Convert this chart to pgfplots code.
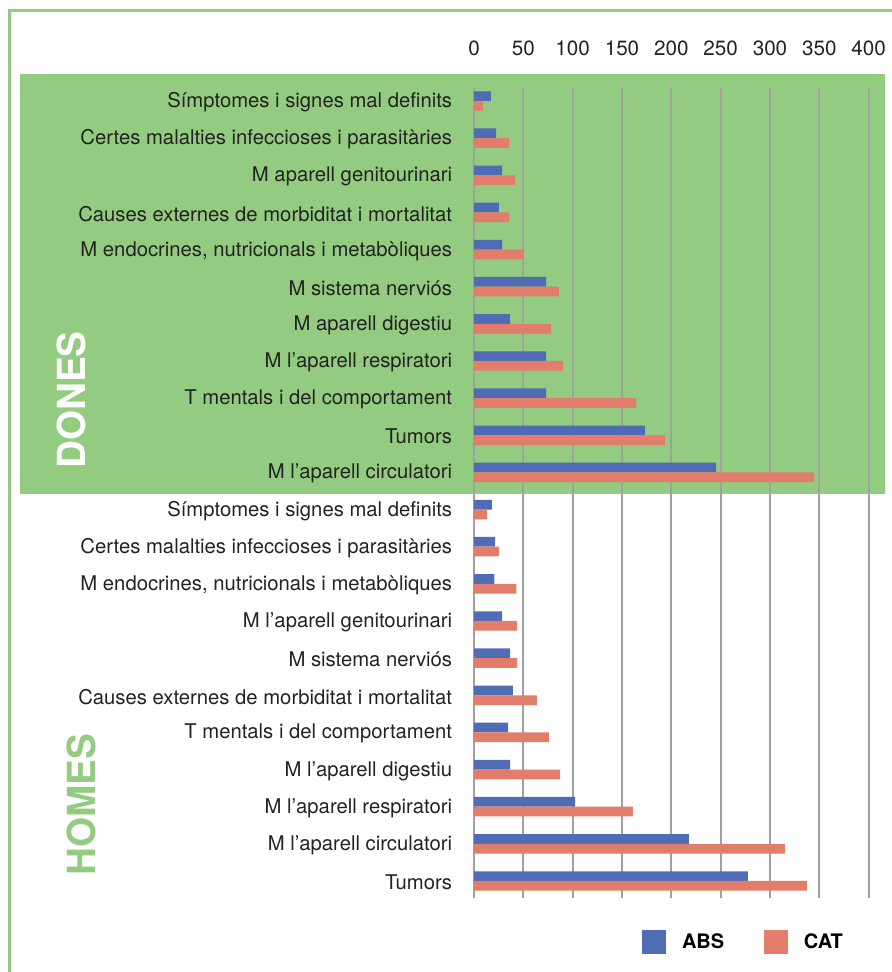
\documentclass[border=0pt]{standalone}
\usepackage{pgfplots}
\pgfplotsset{compat=1.18}
\usepackage{fontspec}
\setmainfont{TeX Gyre Heros}
\definecolor{absblue}{HTML}{4F6CB5}
\definecolor{catred}{HTML}{E27C6B}
\definecolor{bggreen}{HTML}{93CC80}
\definecolor{gridgray}{HTML}{A0A0A0}
\definecolor{txt}{HTML}{222222}
\begin{document}
\begin{tikzpicture}
% 1 unit = 1 px of the reference, y downwards
\begin{scope}[x=0.75pt, y=-0.75pt]
\useasboundingbox (0,0) rectangle (892,972);
\fill[bggreen] (20,74) rectangle (885,494);
\draw[bggreen, line width=2.25pt] (9.5,972) -- (9.5,10.5) -- (892,10.5);
\node[rotate=90, text=white, font=\fontsize{29}{32}\selectfont\bfseries] at (71,400) {DONES};
\node[rotate=90, text=bggreen, font=\fontsize{29}{32}\selectfont\bfseries] at (81,805) {HOMES};
\end{scope}
\begin{axis}[
    at={(355.5pt,-66pt)}, anchor=north west,
    scale only axis,
    width=296pt, height=607.5pt,
    xmin=0, xmax=400,
    ymin=-0.458, ymax=21.35,
    xtick={0,50,...,400},
    xticklabel pos=upper,
    ytick={0,...,21},
    yticklabels={Tumors,
        M l’aparell circulatori,
        M l’aparell respiratori,
        M l’aparell digestiu,
        T mentals i del comportament,
        Causes externes de morbiditat i mortalitat,
        M sistema nerviós,
        M l’aparell genitourinari,
        {M endocrines, nutricionals i metabòliques},
        Certes malalties infeccioses i parasitàries,
        Símptomes i signes mal definits,
        M l’aparell circulatori,
        Tumors,
        T mentals i del comportament,
        M l’aparell respiratori,
        M aparell digestiu,
        M sistema nerviós,
        {M endocrines, nutricionals i metabòliques},
        Causes externes de morbiditat i mortalitat,
        M aparell genitourinari,
        Certes malalties infeccioses i parasitàries,
        Símptomes i signes mal definits},
    axis line style={draw=none},
    tick style={draw=none},
    xmajorgrids,
    grid style={gridgray, line width=1.5pt},
    yticklabel style={font=\fontsize{15.2}{18}\selectfont, text=txt, inner sep=0pt, xshift=-12pt, yshift=-1pt},
    xticklabel style={font=\fontsize{15.5}{18}\selectfont, text=txt, inner sep=0pt, yshift=24pt},
    /pgf/number format/assume math mode=true,
    xbar,
    bar width=7.3pt,
    legend columns=2,
    legend style={at={(0.684,-0.054)}, anchor=center, draw=none, fill=none,
        font=\fontsize{15}{18}\selectfont\bfseries,
        /tikz/every odd column/.append style={column sep=9.75pt},
        /tikz/every even column/.append style={column sep=28pt}},
    legend image code/.code={\fill[#1] (0pt,-9pt) rectangle (18pt,9pt);},
]
\addplot[fill=absblue, draw=none, bar shift=3.64pt] coordinates {
    (17.2,21)(22.3,20)(28.4,19)(25.3,18)(28.4,17)(73,16)(36.5,15)(73,14)(73,13)(173.3,12)(245.3,11)
    (18.2,10)(21.3,9)(20.6,8)(28.4,7)(36.5,6)(39.5,5)(34.5,4)(36.5,3)(102.4,2)(217.9,1)(277.7,0)
};
\addplot[fill=catred, draw=none, bar shift=-3.64pt] coordinates {
    (9.1,21)(35.5,20)(41.6,19)(35.5,18)(50.3,17)(86.1,16)(78,15)(90.2,14)(164.2,13)(193.6,12)(344.6,11)
    (13.2,10)(25.3,9)(42.9,8)(43.6,7)(43.6,6)(63.8,5)(76,4)(87.2,3)(161.1,2)(315.2,1)(337.5,0)
};
\legend{ABS,CAT}
\end{axis}
\end{tikzpicture}
\end{document}
